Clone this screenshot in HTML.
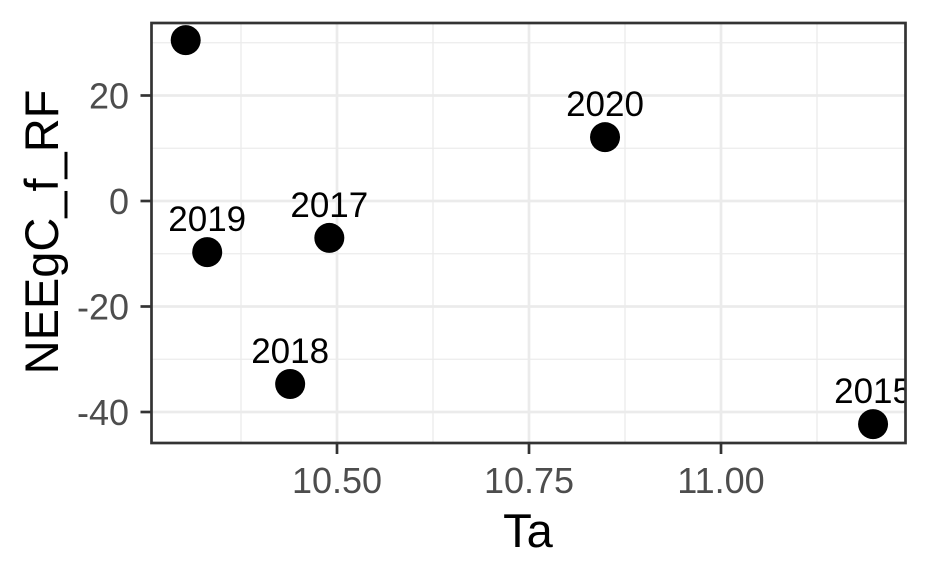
<!DOCTYPE html>
<html><head><meta charset="utf-8"><style>
html,body{margin:0;padding:0;background:#fff;}
svg{display:block;font-family:"Liberation Sans",Arial,sans-serif;}
</style></head><body>
<svg id="chart" width="929" height="577" viewBox="0 0 929 577"></svg>
<script>
const years = ["", "2019", "2017", "2018", "2020", "2015"];
const taValues = [10.303, 10.331, 10.490, 10.439, 10.849, 11.198];
const neeValues = [30.5, -9.7, -7.0, -34.7, 12.1, -42.3];
const xTicks = [10.50, 10.75, 11.00];
const xTickLabels = ["10.50", "10.75", "11.00"];
const xMinor = [10.375, 10.625, 10.875, 11.125];
const yTicks = [20, 0, -20, -40];
const yTickLabels = ["20", "0", "-20", "-40"];
const yMinor = [30, 10, -10, -30];

const L=151.5, R=905.5, T=23, B=443;
const xs = v => 337 + (v - 10.5) * 768;
const ys = v => 201 - v * 5.275;
const NS="http://www.w3.org/2000/svg";
const svg=document.getElementById('chart');
function mk(tag, attrs, parent){const e=document.createElementNS(NS,tag);for(const k in attrs)e.setAttribute(k,attrs[k]);(parent||svg).appendChild(e);return e;}

const defs=mk('defs',{});
const cp=mk('clipPath',{id:'panelclip'},defs);
mk('rect',{x:L,y:T,width:R-L,height:B-T},cp);

const grid=mk('g',{});


xMinor.forEach(v=>{const l=mk('line',{x1:xs(v),x2:xs(v),y1:T,y2:B,stroke:'#ebebeb','stroke-width':1.3},grid);});
yMinor.forEach(v=>{const l=mk('line',{x1:L,x2:R,y1:ys(v),y2:ys(v),stroke:'#ebebeb','stroke-width':1.3},grid);});
xTicks.forEach(v=>{const l=mk('line',{x1:xs(v),x2:xs(v),y1:T,y2:B,stroke:'#ebebeb','stroke-width':2.7},grid);});
yTicks.forEach(v=>{const l=mk('line',{x1:L,x2:R,y1:ys(v),y2:ys(v),stroke:'#ebebeb','stroke-width':2.7},grid);});

const pts=mk('g',{'clip-path':'url(#panelclip)'});


taValues.forEach((t,i)=>{
  const c=mk('circle',{cx:xs(t),cy:ys(neeValues[i]),r:15,fill:'#000'},pts);
  
  
  if(years[i]){
    const tx=mk('text',{x:xs(t),y:ys(neeValues[i])-21,'text-anchor':'middle','font-size':35,fill:'#000'},pts);
    tx.textContent=years[i];
    
    
  }
});

const border=mk('rect',{x:L,y:T,width:R-L,height:B-T,fill:'none',stroke:'#333','stroke-width':2.7});



xTicks.forEach((v,i)=>{
  const l=mk('line',{x1:xs(v),x2:xs(v),y1:B,y2:B+11,stroke:'#333','stroke-width':2.7});
  
  
  const t=mk('text',{x:xs(v),y:493,'text-anchor':'middle','font-size':36,fill:'#4d4d4d'});
  t.textContent=xTickLabels[i];
  
  
});
yTicks.forEach((v,i)=>{
  const l=mk('line',{x1:L-11,x2:L,y1:ys(v),y2:ys(v),stroke:'#333','stroke-width':2.7});
  
  
  const t=mk('text',{x:129,y:ys(v)+13,'text-anchor':'end','font-size':36,fill:'#4d4d4d'});
  t.textContent=yTickLabels[i];
  
  
});

const xt=mk('text',{x:528,y:547,'text-anchor':'middle','font-size':47,fill:'#000'});
xt.textContent='Ta';


const yt=mk('text',{x:0,y:0,'text-anchor':'middle','font-size':47,fill:'#000',transform:'translate(58,232) rotate(-90)'});
yt.textContent='NEEgC_f_RF';


</script>
</body></html>
